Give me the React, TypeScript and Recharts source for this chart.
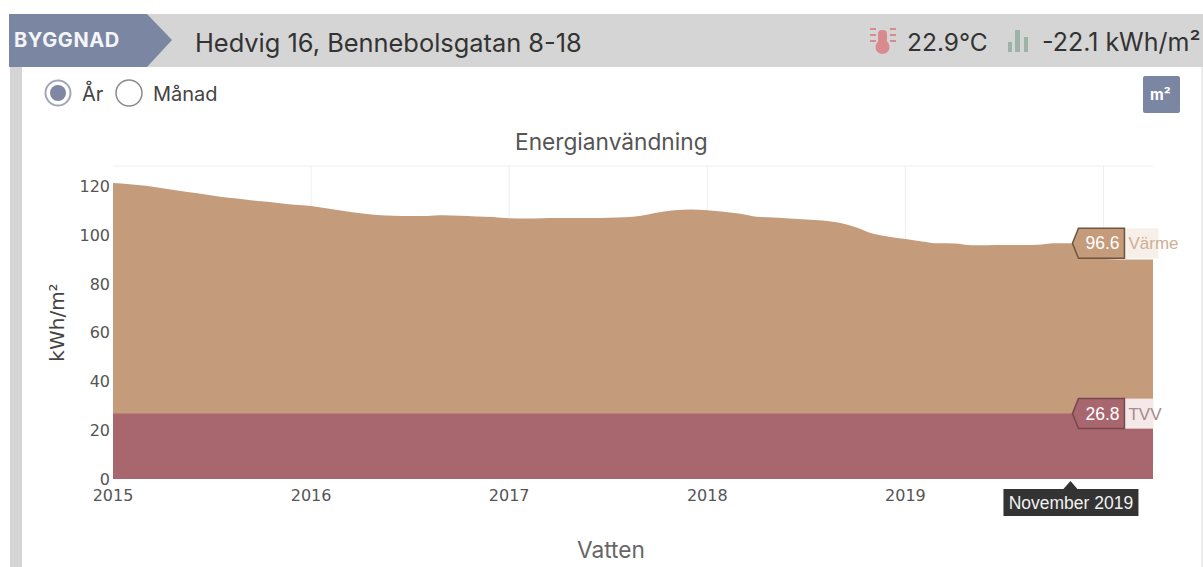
import React from "react";
import { AreaChart, Area, XAxis, YAxis, CartesianGrid, ReferenceDot } from "recharts";

const startYear = 2015;
const varmeValues = [
  121.3, 120.8, 120.2, 119.2, 118.2, 117.2, 116.2, 115.3, 114.6, 113.8, 113.1, 112.4,
  111.9, 110.9, 109.9, 108.9, 108.2, 107.9, 107.8, 107.8, 108.1, 107.9, 107.6, 107.4,
  106.9, 106.8, 106.9, 107.0, 107.0, 107.0, 107.1, 107.3, 107.9, 109.2, 110.2, 110.5,
  110.2, 109.5, 108.7, 107.5, 107.2, 106.8, 106.4, 106.0, 105.0, 103.2, 100.6, 99.3,
  98.4, 97.4, 96.6, 96.5, 95.8, 95.8, 95.9, 95.9, 96.0, 96.6, 96.6, 96.0,
  90.2, 90.0, 90.0, 90.0,
];
const tvvValue = 26.8;
const yTicks = [0, 20, 40, 60, 80, 100, 120];
const gridValues = [120, 128.3];
const xTicks = [2015, 2016, 2017, 2018, 2019];
const xGridYears = [2016, 2017, 2018, 2019, 2020];
const hoverMonthIndex = 58;
const hoverLabel = "November 2019";

const rows = varmeValues.map((v, i) => ({ t: startYear + i / 12, varme: v, tvv: tvvValue }));
const hoverT = startYear + hoverMonthIndex / 12;

const UI = "Inter, 'Open Sans', sans-serif";
const AXIS = "'DejaVu Sans', sans-serif";
const FLAGFONT = "'Liberation Sans', sans-serif";
const BLUE = "#7b86a3";
const TAN = "#c49b7b";
const ROSE = "#a8666f";

function Flag({ cx, cy, value, name, fill, stroke, pale, nameColor, right }: any) {
  const tip = cx + 2;
  const l = tip + 6;
  const r = tip + 52;
  return (
    <g>
      <rect x={r} y={cy - 15} width={right} height={30} fill={pale} />
      <path d={`M${tip} ${cy} L${l} ${cy - 15} H${r} V${cy + 15} H${l} Z`} fill={fill} stroke={stroke} strokeWidth={1.5} />
      <text x={(l + r) / 2 + 1} y={cy + 6} textAnchor="middle" fontFamily={FLAGFONT} fontSize={17.5} fill="#fff">{value}</text>
      <text x={r + 4} y={cy + 6} fontFamily={FLAGFONT} fontSize={17} fill={nameColor}>{name}</text>
    </g>
  );
}

function TimeFlag({ cx, cy, label }: any) {
  return (
    <g>
      <path d={`M${cx - 7} ${cy + 10} L${cx} ${cy + 2} L${cx + 7} ${cy + 10} H${cx + 68} V${cy + 37} H${cx - 67} V${cy + 10} Z`} fill="#333333" />
      <text x={cx + 0.5} y={cy + 30} textAnchor="middle" fontFamily={FLAGFONT} fontSize={17.5} fill="#f2f2f2">{label}</text>
    </g>
  );
}

const abs = (left: number, top: number, extra: React.CSSProperties = {}): React.CSSProperties => ({
  position: "absolute", left, top, whiteSpace: "nowrap", lineHeight: 1, ...extra,
});

export default function App() {
  return (
    <div style={{ position: "fixed", left: 0, top: 0, width: 1203, height: 567, overflow: "hidden", background: "#fff", fontFamily: UI }}>
      <div style={abs(9, 14, { width: 1194, height: 53, background: "#d5d5d5" })} />
      <div style={abs(10, 67, { width: 12, height: 500, background: "#d5d5d5" })} />
      <div style={abs(1201, 67, { width: 2, height: 500, background: "#ececec" })} />
      <svg width={1203} height={120} style={{ position: "absolute", left: 0, top: 0 }}>
        <path d="M9 14 H147 L172 40 L147 67 H9 Z" fill={BLUE} />
        <g fill="#d98a8f">
          <rect x="878" y="30" width="9" height="16" rx="4" />
          <circle cx="882.5" cy="47" r="7" />
          <rect x="870" y="28" width="6" height="2" /><rect x="870" y="34" width="6" height="2" /><rect x="870" y="40" width="6" height="2" />
          <rect x="890" y="28" width="6" height="2" /><rect x="890" y="34" width="6" height="2" /><rect x="890" y="40" width="6" height="2" />
        </g>
        <g fill="#9db3a8">
          <rect x="1008" y="42" width="4" height="10" />
          <rect x="1015" y="30" width="5" height="22" />
          <rect x="1024" y="37" width="4" height="15" />
        </g>
        <circle cx="58" cy="93" r="12.5" fill="#fff" stroke="#a2a6b8" strokeWidth="2" />
        <circle cx="58" cy="93" r="8" fill="#8186a5" />
        <circle cx="129" cy="93" r="13" fill="#fff" stroke="#8a8a8a" strokeWidth="1.5" />
        <rect x="1143" y="76" width="37" height="37" rx="2" fill={BLUE} />
      </svg>
      <div style={abs(14, 30, { color: "#f4f5f8", fontWeight: 700, fontSize: 20, letterSpacing: 0.6 })}>BYGGNAD</div>
      <div style={abs(195, 30, { color: "#333", fontSize: 25.4 })}>Hedvig 16, Bennebolsgatan 8-18</div>
      <div style={abs(907, 30, { color: "#333", fontSize: 24.5 })}>22.9°C</div>
      <div style={abs(1042, 30, { color: "#333", fontSize: 25 })}>-22.1 kWh/m²</div>
      <div style={abs(82, 84, { color: "#444", fontSize: 20 })}>År</div>
      <div style={abs(153, 84, { color: "#444", fontSize: 20 })}>Månad</div>
      <div style={abs(1150, 87, { color: "#fff", fontWeight: 700, fontSize: 15 })}>m²</div>
      <div style={abs(515, 131, { color: "#555", fontSize: 22.7 })}>Energianvändning</div>
      <div style={abs(577, 539, { color: "#666", fontSize: 22.7 })}>Vatten</div>

      <div style={{ position: "absolute", left: 0, top: 0 }}>
        <AreaChart
          width={1203}
          height={567}
          data={rows}
          margin={{ top: 166, right: 50, bottom: 58, left: 63 }}
          style={{ background: "transparent" }}
        >
          <CartesianGrid stroke="#efefef" horizontalValues={gridValues} verticalValues={xGridYears} />
          <XAxis
            dataKey="t"
            type="number"
            domain={[2015, 2020.25]}
            ticks={xTicks}
            tickFormatter={(v: number) => String(Math.round(v))}
            axisLine={false}
            tickLine={false}
            tickMargin={5}
            height={30}
            tick={{ fontFamily: AXIS, fontSize: 16, fill: "#555" }}
          />
          <YAxis
            type="number"
            domain={[0, 128.3]}
            ticks={yTicks}
            width={50}
            axisLine={false}
            tickLine={false}
            tickSize={0}
            tickMargin={3}
            tick={{ fontFamily: AXIS, fontSize: 16, fill: "#555" }}
            label={{ value: "kWh/m²", angle: -90, position: "insideLeft", offset: 0, dx: -6, style: { fontFamily: AXIS, fontSize: 20, fill: "#444", textAnchor: "middle" } }}
          />
          <Area type="monotone" dataKey="varme" name="Värme" stroke="none" fill={TAN} fillOpacity={1} isAnimationActive={false} dot={false} activeDot={false} />
          <Area type="monotone" dataKey="tvv" name="TVV" stroke="none" fill={ROSE} fillOpacity={1} isAnimationActive={false} dot={false} activeDot={false} />
          <ReferenceDot x={hoverT} y={varmeValues[hoverMonthIndex]} ifOverflow="visible"
            shape={(p: any) => <Flag {...p} value={String(varmeValues[hoverMonthIndex])} name="Värme" fill={TAN} stroke="#6f5540" pale="#f7efe9" nameColor="#cfae94" right={34} />} />
          <ReferenceDot x={hoverT} y={tvvValue} ifOverflow="visible"
            shape={(p: any) => <Flag {...p} value={String(tvvValue)} name="TVV" fill={ROSE} stroke="#7a4650" pale="#f4e8e8" nameColor="#a88a8a" right={29} />} />
          <ReferenceDot x={hoverT} y={0} ifOverflow="visible"
            shape={(p: any) => <TimeFlag {...p} label={hoverLabel} />} />
        </AreaChart>
      </div>
    </div>
  );
}
